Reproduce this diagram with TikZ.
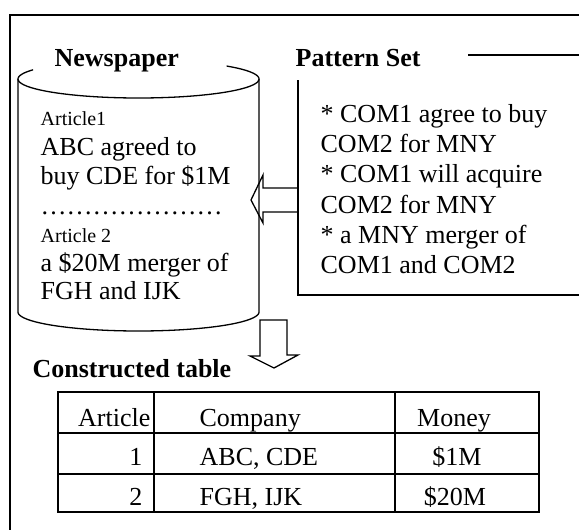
\documentclass[tikz,border=0pt]{standalone}
\usepackage{fontspec}
\setmainfont{Liberation Serif}
\begin{document}
\begin{tikzpicture}[x=1pt,y=-1pt, line width=1.3pt, line join=miter,
 body/.style={font=\fontsize{26}{30}\selectfont, inner sep=0pt, anchor=base west},
 small/.style={font=\fontsize{20}{24}\selectfont, inner sep=0pt, anchor=base west},
 ttl/.style={font=\fontsize{26}{30}\selectfont\bfseries, inner sep=0pt, anchor=base west},
 cell/.style={font=\fontsize{26}{30}\selectfont, inner sep=0pt},
 tbl/.style={line width=1.5pt}]
\useasboundingbox (0,0) rectangle (579,530);
\clip (0,0) rectangle (579,530);
% outer frame
\draw (10,545) -- (10,15) -- (600,15);
% cylinder
\draw plot[domain=-43:209, samples=100, smooth] ({138.5+120.5*cos(\x)},{79+19*sin(\x)});
\draw (259,79) -- (259,312) -- plot[domain=0:180, samples=80, smooth] ({138.5+120.5*cos(\x)},{312+19*sin(\x)}) -- (18,79);
\node[ttl] (np) at (54,66) {Newspaper};
\node[small] (a1) at (40,125) {Article1};
\node[body] (l1) at (40,155) {ABC agreed to};
\node[body] (l2) at (40,184) {buy CDE for \$1M};
\node[body] (dots) at (40,214) {…………………};
\node[small] (a2) at (40,242) {Article 2};
\node[body] (l3) at (40,271) {a \$20M merger of};
\node[body] (l4) at (40,299) {FGH and IJK};
% pattern set box
\draw (468,55) -- (600,55);
\draw (298,80) -- (298,295) -- (600,295);
\node[ttl] (ps) at (295,66) {Pattern Set};
\node[body] (p1) at (320,122) {* COM1 agree to buy};
\node[body] (p2) at (320,152) {COM2 for MNY};
\node[body] (p3) at (320,182) {* COM1 will acquire};
\node[body] (p4) at (320,213) {COM2 for MNY};
\node[body] (p5) at (320,243) {* a MNY merger of};
\node[body] (p6) at (320,273) {COM1 and COM2};
% block arrows
\draw (298,188) -- (263,188) -- (263,175) -- (251,200) -- (263,223) -- (263,212) -- (298,212);
\draw (260,320) -- (287,320) -- (287,355) -- (298,355) -- (274,368) -- (250,356) -- (260,356) -- cycle;
% table
\node[ttl] (ct) at (32,377) {Constructed table};
\draw[tbl] (58,392) rectangle (539,512);
\draw[tbl] (58,433) -- (539,433);
\draw[tbl] (58,474) -- (539,474);
\draw[tbl] (154,392) -- (154,512);
\draw[tbl] (395,392) -- (395,512);
\node[cell, anchor=base east] (h1) at (151,426) {Article};
\node[cell, anchor=base west] (h2) at (199,426) {Company};
\node[cell, anchor=base] (h3) at (454,426) {Money};
\node[cell, anchor=base east] (r11) at (143,465) {1};
\node[cell, anchor=base west] (r12) at (199,465) {ABC, CDE};
\node[cell, anchor=base] (r13) at (457,465) {\$1M};
\node[cell, anchor=base east] (r21) at (143,505) {2};
\node[cell, anchor=base west] (r22) at (199,505) {FGH, IJK};
\node[cell, anchor=base] (r23) at (455,505) {\$20M};
\end{tikzpicture}
\end{document}
